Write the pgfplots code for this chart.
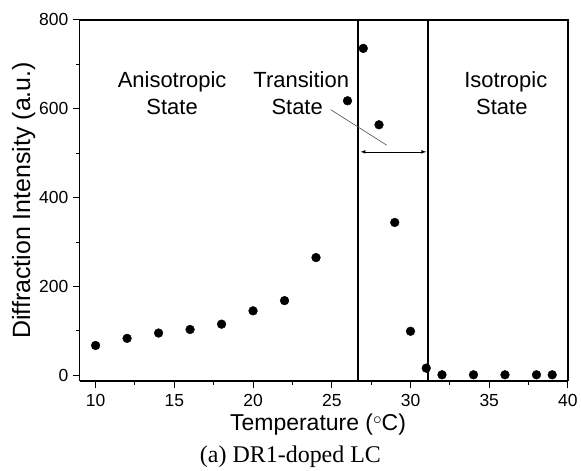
\documentclass[border=0pt]{standalone}
\usepackage{pgfplots}
\pgfplotsset{compat=1.18}
\usepackage{fontspec}
\setmainfont{Liberation Sans}
\newfontfamily\seriffont{Liberation Serif}
\begin{document}
\begin{tikzpicture}
\begin{axis}[
  scale only axis,
  width=489pt, height=361.7pt,
  at={(0,0)}, anchor=south west,
  xmin=9, xmax=40, ymin=-13, ymax=800,
  xtick={10,15,...,40}, minor xtick={12.5,17.5,...,37.5},
  ytick={0,200,...,800}, minor ytick={100,300,500,700},
  axis x line*=bottom, axis y line*=left,
  axis line style={line width=1.2pt, -},
  tick style={line width=1pt, black},
  tick align=outside,
  major tick length=7pt, minor tick length=4pt,
  /pgf/number format/assume math mode=true,
  ticklabel style={font=\fontsize{17.5}{20}\selectfont},
  xticklabel style={yshift=-3pt},
  yticklabel style={xshift=-1pt},
  xlabel={Temperature (\raisebox{0.55ex}{\fontsize{19}{19}\selectfont$\circ$}C)},
  xlabel style={font=\fontsize{23}{26}\selectfont, at={(axis description cs:0.488,0)}, anchor=base, yshift=-50pt},
  ylabel={Diffraction Intensity (a.u.)},
  ylabel style={font=\fontsize{25}{28}\selectfont, at={(axis description cs:-0.115,0.5)}, anchor=center, rotate=0},
  clip=false,
]
% top and right box lines
\draw[line width=1.2pt] (rel axis cs:0,1) -- (rel axis cs:1,1) -- (rel axis cs:1,0);
\addplot[only marks, mark=*, mark size=4.4pt, black] coordinates {
(10,67) (12,83) (14,95) (16,103) (18,115) (20,145) (22,168) (24,265)
(26,618) (27,736) (28,564) (29,344) (30,99) (31,16) (32,1)
(34,1) (36,1) (38,1) (39,1)
};
\addplot[black, line width=1.8pt] coordinates {(26.67,-13) (26.67,800)};
\addplot[black, line width=1.8pt] coordinates {(31.09,-13) (31.09,797)};
\addplot[black, line width=0.7pt, <->, >=latex] coordinates {(26.83,503) (31.0,503)};
\addplot[black!70, line width=0.6pt] coordinates {(24.93,598) (28.49,518)};
\node[font=\fontsize{22}{26}\selectfont, anchor=base] at (axis cs:14.86,648.8) {Anisotropic};
\node[font=\fontsize{22}{26}\selectfont, anchor=base] at (axis cs:14.86,588) {State};
\node[font=\fontsize{22}{26}\selectfont, anchor=base] at (axis cs:23.06,648.8) {Transition};
\node[font=\fontsize{22}{26}\selectfont, anchor=base] at (axis cs:22.8,588) {State};
\node[font=\fontsize{22}{26}\selectfont, anchor=base] at (axis cs:36.05,648.8) {Isotropic};
\node[font=\fontsize{22}{26}\selectfont, anchor=base] at (axis cs:35.8,588) {State};
\end{axis}
\node[font=\seriffont\fontsize{24}{28}\selectfont, anchor=base] at (211pt,-81.6pt) {(a) DR1-doped LC};
\useasboundingbox (-80pt,-88.3pt) rectangle (501pt,381.7pt);
\end{tikzpicture}
\end{document}
